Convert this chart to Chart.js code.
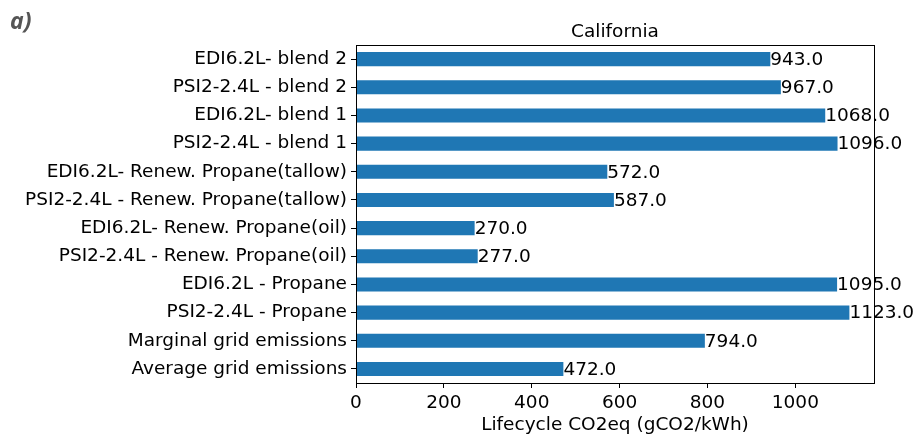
<!DOCTYPE html>
<html>
<head>
<meta charset="utf-8">
<script src="https://cdn.jsdelivr.net/npm/chart.js@4.4.0/dist/chart.umd.min.js"></script>
<style>
  html, body { margin: 0; padding: 0; background: #fff; }
  #wrap { width: 917px; height: 437px; }
</style>
</head>
<body>
<div id="wrap"><canvas id="chart" width="917" height="437"></canvas></div>
<script>
let labels = ['EDI6.2L- blend 2', 'PSI2-2.4L - blend 2', 'EDI6.2L- blend 1', 'PSI2-2.4L - blend 1',
  'EDI6.2L- Renew. Propane(tallow)', 'PSI2-2.4L - Renew. Propane(tallow)',
  'EDI6.2L- Renew. Propane(oil)', 'PSI2-2.4L - Renew. Propane(oil)',
  'EDI6.2L - Propane', 'PSI2-2.4L - Propane', 'Marginal grid emissions', 'Average grid emissions'];
let values = [943, 967, 1068, 1096, 572, 587, 270, 277, 1095, 1123, 794, 472];
let xTicks = [0, 200, 400, 600, 800, 1000];

const FONT = 'DejaVu Sans';
const FSIZE = 18.5;

// value labels, frame, title and panel letter
let extras = {
  id: 'extras',
  afterDatasetsDraw(chart) {
    let ctx = chart.ctx;
    let meta = chart.getDatasetMeta(0);
    ctx.save();
    ctx.fillStyle = '#000';
    ctx.font = FSIZE + 'px "' + FONT + '"';
    ctx.textAlign = 'left';
    ctx.textBaseline = 'middle';
    meta.data.forEach(function(bar, i) {
      ctx.fillText(values[i].toFixed(1), bar.x, bar.y + 1);
    });
    let a = chart.chartArea;
    ctx.strokeStyle = '#000';
    ctx.lineWidth = 1;
    ctx.strokeRect(a.left + 0.5, a.top + 0.5, a.right - a.left, a.bottom - a.top);
    ctx.textAlign = 'center';
    ctx.fillText('California', (a.left + a.right) / 2, 32);
    ctx.fillStyle = '#555';
    ctx.font = 'italic bold 23px "Open Sans"';
    ctx.textAlign = 'left';
    ctx.fillText('a)', 10, 22);
    ctx.restore();
  }
};

let myChart = document.getElementById('chart').getContext('2d');
let chart = new Chart(myChart, {
  type: 'bar',
  data: {
    labels: labels,
    datasets: [{
      data: values,
      backgroundColor: '#1f77b4',
      borderWidth: 0,
      barPercentage: 0.5,
      categoryPercentage: 1.0
    }]
  },
  options: {
    indexAxis: 'y',
    responsive: false,
    devicePixelRatio: 1,
    animation: false,
    layout: { padding: { top: 45, right: 43, left: 0, bottom: 0 } },
    plugins: {
      legend: { display: false },
      tooltip: { enabled: false }
    },
    scales: {
      x: {
        min: 0,
        max: 1179,
        afterBuildTicks: function(scale) {
          scale.ticks = xTicks.map(v => ({ value: v }));
        },
        afterFit: function(scale) { scale.height = 54; },
        grid: { drawOnChartArea: false, drawTicks: true, tickLength: 5, color: '#000' },
        border: { display: true, color: '#000' },
        ticks: {
          color: '#000', font: { family: FONT, size: FSIZE }, padding: 4, maxRotation: 0,
          callback: function(v) { return String(v); }
        },
        title: {
          display: true,
          text: 'Lifecycle CO2eq (gCO2/kWh)',
          color: '#000',
          font: { family: FONT, size: FSIZE },
          padding: { top: 0, bottom: 1 }
        }
      },
      y: {
        afterFit: function(scale) { scale.width = 356; },
        grid: { drawOnChartArea: false, drawTicks: true, tickLength: 5, color: '#000', offset: false },
        border: { display: true, color: '#000' },
        ticks: { color: '#000', font: { family: FONT, size: FSIZE }, padding: 4, autoSkip: false }
      }
    }
  },
  plugins: [extras]
});
</script>
</body>
</html>
